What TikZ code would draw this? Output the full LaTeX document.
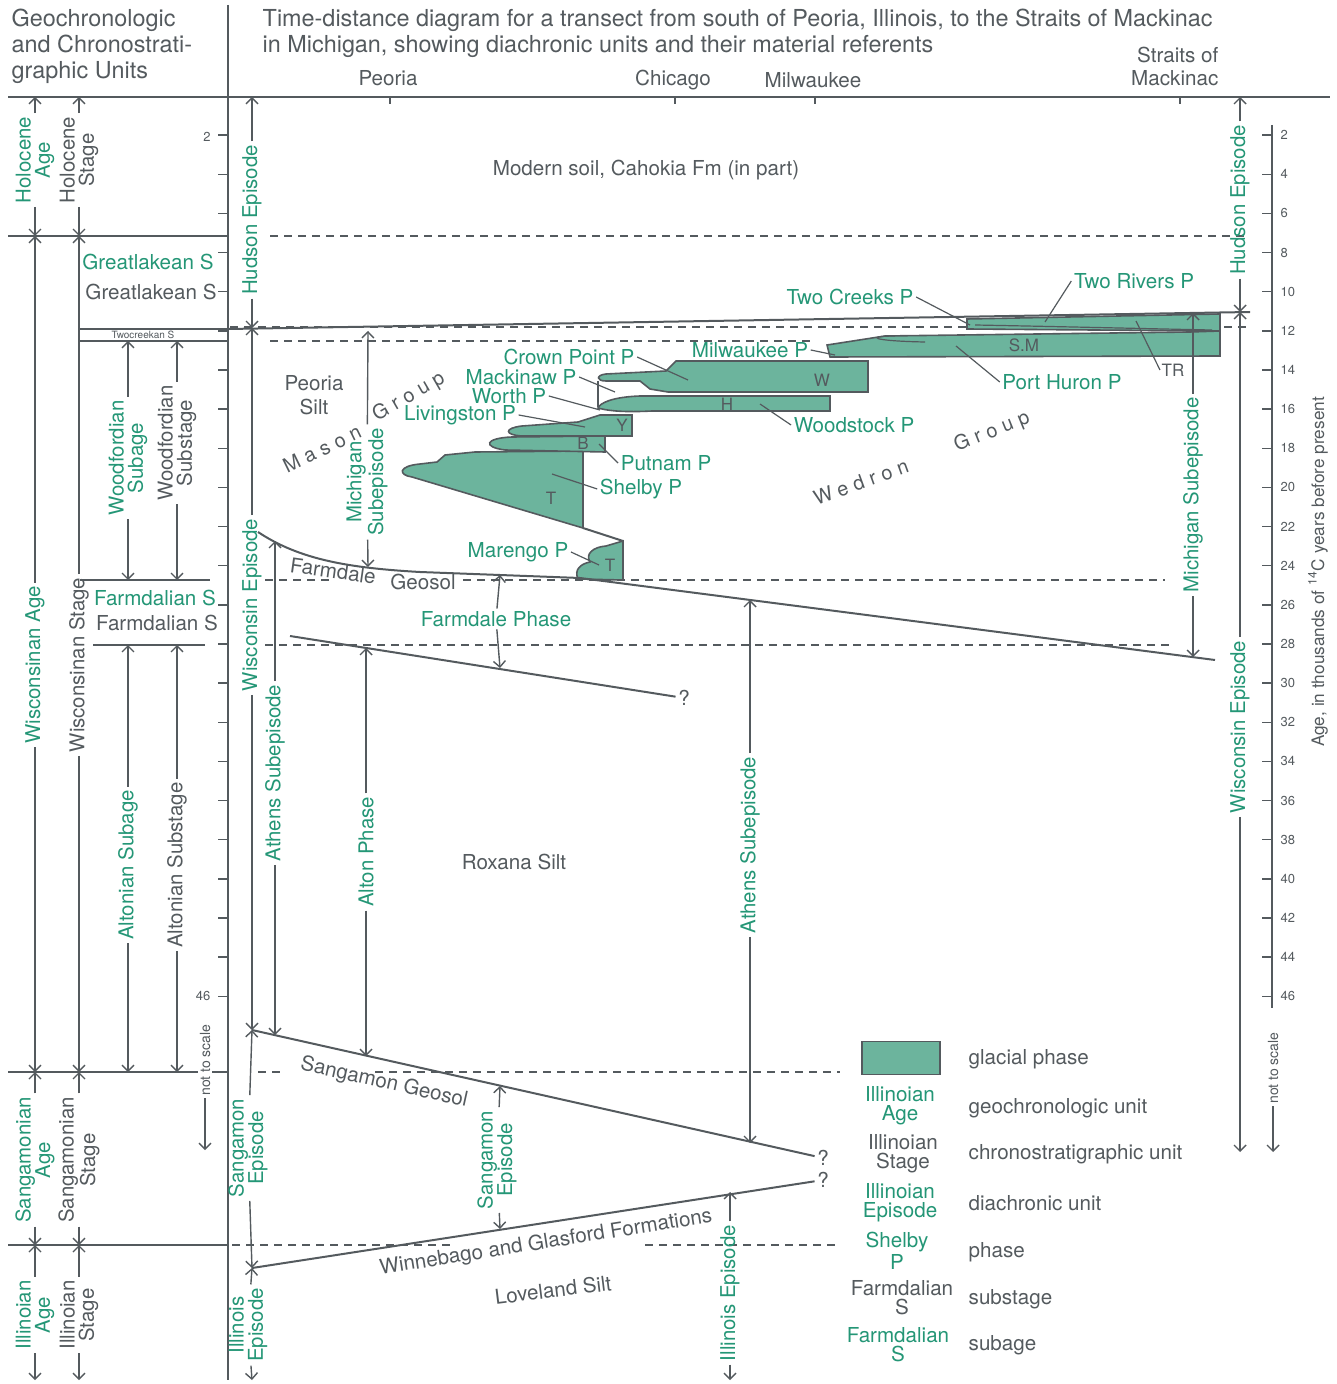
\documentclass[tikz,border=0pt]{standalone}
\usepackage{fontspec}
\setmainfont{TeX Gyre Heros}
\newfontfamily\grpfont[LetterSpace=30]{TeX Gyre Heros}
\usetikzlibrary{arrows.meta}
\definecolor{inkg}{RGB}{84,90,94}
\definecolor{epig}{RGB}{36,150,118}
\definecolor{glacier}{RGB}{108,180,157}
\begin{document}
\begin{tikzpicture}[%
    x=0.5pt, y=-0.5pt, color=inkg,
    >={Straight Barb[length=3pt,width=6pt]}, line width=0.7pt,
    txt/.style={font=\fontsize{10.3}{11}\selectfont, inner sep=1pt},
    grn/.style={txt, text=epig},
    vtxt/.style={rotate=90, align=center, inner sep=1.5pt, font=\fontsize{10.2}{9.7}\selectfont},
    vgrn/.style={vtxt, text=epig},
    inlbl/.style={font=\fontsize{8.5}{9}\selectfont, inner sep=0.5pt},
    small/.style={font=\fontsize{6.5}{7}\selectfont, inner sep=1pt},
    head/.style={font=\fontsize{11.7}{13}\selectfont, align=left, inner sep=0pt},
    grp/.style={font=\grpfont\fontsize{10}{11}\selectfont, inner sep=0pt},
    bound/.style={line width=1pt},
    frame/.style={line width=1.3pt},
    dashln/.style={dash pattern=on 4pt off 3pt, line width=0.6pt},
    lobe/.style={fill=glacier, draw=inkg, line width=0.8pt},
    ptr/.style={line width=0.6pt}
  ]
  \useasboundingbox (0,0) rectangle (1336,1384);

  % headings
  \node[head, anchor=north west] (hdl) at (11,8) {Geochronologic\\and Chronostrati-\\graphic Units};
  \node[head, anchor=north west] (hdr) at (262,8) {Time-distance diagram for a transect from south of Peoria, Illinois, to the Straits of Mackinac\\in Michigan, showing diachronic units and their material referents};
  \node[txt] (peo) at (388,78) {Peoria};
  \node[txt] (chi) at (673,80) {Chicago};
  \node[txt] (mil) at (813,80) {Milwaukee};
  \node[txt, align=right, anchor=north east, font=\fontsize{10.3}{11.5}\selectfont] (stm) at (1221,44) {Straits of\\Mackinac};

  % frame
  \draw[frame] (8,97) -- (1330,97);
  \draw[frame] (228,5) -- (228,1380);
  \foreach \x in {390,675,815,1180} \draw (\x,97) -- (\x,104);
  \draw[bound] (8,236) -- (228,236);
  \draw[bound] (80,329) -- (228,329);
  \draw[bound] (80,341) -- (228,341);
  \draw[bound] (80,580) -- (210,580);
  \draw[bound] (93,645) -- (205,645);
  \draw[bound] (8,1072) -- (228,1072);
  \draw[bound] (8,1245) -- (228,1245);

  % scales
  \foreach \a in {2,4,...,46} \draw (218,{96+19.57*\a}) -- (228,{96+19.57*\a});
  \node[small] (l2) at (207,137) {2};
  \node[small] (l46) at (203,996) {46};
  \draw (1272,125) -- (1272,1008);
  \foreach \a in {2,4,...,46}
    \draw (1262,{96+19.57*\a}) -- (1272,{96+19.57*\a}) node[small, right, xshift=3pt] (r\a) {\a};
  \node[txt, rotate=90, font=\fontsize{8.6}{9}\selectfont] (agel) at (1318,572) {Age, in thousands of \textsuperscript{14}C years before present};
  \node[small, rotate=90, fill=white, font=\fontsize{7}{8}\selectfont] (nts1) at (205,1060) {not to scale};
  \coordinate (nts1B) at (205,1150);
  \draw[->] (nts1) -- (nts1B);
  \node[small, rotate=90, font=\fontsize{7}{8}\selectfont] (nts2) at (1273,1068) {not to scale};
  \coordinate (nts2B) at (1273,1152);
  \draw[->] (nts2) -- (nts2B);

  % subage and substage names
  \node[grn] (gla) at (148,262) {Greatlakean S};
  \node[txt] (gls) at (151,292) {Greatlakean S};
  \node[txt, font=\fontsize{5}{6}\selectfont] (tcs) at (143,335) {Twocreekan S};
  \node[grn] (fda) at (155,598) {Farmdalian S};
  \node[txt] (fds) at (157,623) {Farmdalian S};

  % ages and stages
  \coordinate (hoaT) at (35,97);  \coordinate (hoaB) at (35,236);
  \node[vgrn] (hoa) at (35,160) {Holocene\\Age};
  \path[->] (hoa) edge (hoaT) edge (hoaB);
  \coordinate (hosT) at (79,97);  \coordinate (hosB) at (79,236);
  \node[vtxt] (hos) at (79,160) {Holocene\\Stage};
  \path[->] (hos) edge (hosT) edge (hosB);
  \coordinate (wiaT) at (35,236);  \coordinate (wiaB) at (35,1072);
  \node[vgrn] (wia) at (35,665) {Wisconsinan Age};
  \path[->] (wia) edge (wiaT) edge (wiaB);
  \coordinate (wisT) at (79,236);  \coordinate (wisB) at (79,1072);
  \node[vtxt] (wis) at (79,665) {Wisconsinan Stage};
  \path[->] (wis) edge (wisT) edge (wisB);
  \coordinate (sgaT) at (35,1072);  \coordinate (sgaB) at (35,1245);
  \node[vgrn] (sga) at (35,1160) {Sangamonian\\Age};
  \path[->] (sga) edge (sgaT) edge (sgaB);
  \coordinate (sgsT) at (79,1072);  \coordinate (sgsB) at (79,1245);
  \node[vtxt] (sgs) at (79,1160) {Sangamonian\\Stage};
  \path[->] (sgs) edge (sgsT) edge (sgsB);
  \coordinate (ilaT) at (35,1245);  \coordinate (ilaB) at (35,1380);
  \node[vgrn] (ila) at (35,1315) {Illinoian\\Age};
  \path[->] (ila) edge (ilaT) edge (ilaB);
  \coordinate (ilsT) at (79,1245);  \coordinate (ilsB) at (79,1380);
  \node[vtxt] (ils) at (79,1315) {Illinoian\\Stage};
  \path[->] (ils) edge (ilsT) edge (ilsB);
  \coordinate (wfaT) at (128,341);  \coordinate (wfaB) at (128,580);
  \node[vgrn] (wfa) at (128,458) {Woodfordian\\Subage};
  \path[->] (wfa) edge (wfaT) edge (wfaB);
  \coordinate (wfsT) at (177,341);  \coordinate (wfsB) at (177,580);
  \node[vtxt] (wfs) at (177,443) {Woodfordian\\Substage};
  \path[->] (wfs) edge (wfsT) edge (wfsB);
  \coordinate (alaT) at (128,645);  \coordinate (alaB) at (128,1072);
  \node[vgrn] (ala) at (128,865) {Altonian Subage};
  \path[->] (ala) edge (alaT) edge (alaB);
  \coordinate (alsT) at (177,645);  \coordinate (alsB) at (177,1072);
  \node[vtxt] (als) at (177,865) {Altonian Substage};
  \path[->] (als) edge (alsT) edge (alsB);

  % time lines
  \draw[dashln] (270,236) -- (1245,236);
  \draw[dashln] (230,327) -- (1250,327);
  \draw[dashln] (270,341) -- (815,341);
  \draw[dashln] (265,580) -- (330,580);
  \draw[dashln] (463,580) -- (1165,580);
  \draw[dashln] (265,645) -- (1170,645);
  \draw[dashln] (258,1072) -- (285,1072);
  \draw[dashln] (375,1072) -- (840,1072);
  \draw[dashln] (232,1245) -- (450,1245);
  \draw[dashln] (645,1245) -- (840,1245);

  % glacial phases
  \draw[lobe] (583,451) -- (475,452) -- (445,455) -- (437,462) -- (420,464) .. controls (398,466) and (398,475) .. (412,477) -- (583,528) -- cycle;
  \draw[lobe] (605,436) -- (512,437) .. controls (485,438) and (482,447) .. (505,450) -- (605,452) -- cycle;
  \draw[lobe] (632,415) -- (600,415) -- (578,422) -- (522,426) .. controls (504,428) and (504,435) .. (522,436) -- (632,436) -- cycle;
  \draw[lobe] (830,396) -- (640,396) .. controls (612,397) and (600,403) .. (598,408) .. controls (612,412) and (632,412) .. (652,411) -- (830,411) -- cycle;
  \draw[lobe] (868,361) -- (676,361) -- (666,371) -- (606,374) .. controls (596,375) and (596,381) .. (606,381) -- (640,381) -- (650,389) -- (668,392) -- (868,392) -- cycle;
  \draw (598,381) -- (598,407);
  \draw[lobe] (967,319) -- (1220,314) -- (1220,331) -- (967,329) -- cycle;
  \draw[lobe] (1220,331) -- (1220,356) -- (830,357) -- (827,345) -- (885,336) -- (1190,332) -- cycle;
  \draw[ptr] (975,325) .. controls (1080,327) and (1160,329) .. (1212,330);
  \draw[ptr] (925,342) .. controls (870,341) and (865,336) .. (895,336);
  \draw[lobe] (623,541) -- (623,580) -- (578,579) .. controls (574,570) and (580,564) .. (590,562) .. controls (585,554) and (593,547) .. (606,546) -- cycle;
  \draw[bound] (583,528) -- (623,541);
  \node[inlbl] (lw) at (822,380) {W};
  \node[inlbl] (lh) at (727,404) {H};
  \node[inlbl] (ly) at (622,425) {Y};
  \node[inlbl] (lb) at (583,443) {B};
  \node[inlbl] (lt1) at (551,498) {T};
  \node[inlbl] (lt2) at (610,565) {T};
  \node[inlbl] (lsm) at (1024,345) {S.M};

  % boundaries
  \coordinate (hwL) at (228,329); \coordinate (hwR) at (1250,312);
  \draw[bound] (hwL) -- (hwR);
  \coordinate (fgA) at (258,532); \coordinate (fgB) at (420,572);
  \coordinate (fgC) at (580,578); \coordinate (fgD) at (1215,660);
  \draw[bound] (fgA) .. controls (300,560) and (350,568) .. (fgB) -- (fgC) -- (fgD);
  \coordinate (fbA) at (290,636);
  \node[txt] (q1) at (684,698) {?};
  \draw[bound] (fbA) -- (q1);
  \coordinate (sgA) at (252,1030);
  \node[txt] (q2) at (823,1158) {?};
  \draw[bound] (sgA) -- (q2);
  \coordinate (wgA) at (252,1268);
  \node[txt] (q3) at (823,1180) {?};
  \draw[bound] (wgA) -- (q3);

  % material referents
  \node[txt] (mod) at (646,170) {Modern soil, Cahokia Fm (in part)};
  \node[txt, align=center, font=\fontsize{10.3}{12}\selectfont] (pes) at (314,395) {Peoria\\Silt};
  \node[grp, rotate=26] (mas) at (322,449) {Mason};
  \node[grp, rotate=30] (mgr) at (409,397) {Group};
  \node[grp, rotate=20] (wed) at (861,482) {Wedron};
  \node[grp, rotate=22] (wgr) at (992,432) {Group};
  \node[txt, rotate=-8] (fdl) at (333,571) {Farmdale};
  \node[txt] (geo) at (423,582) {Geosol};
  \node[txt] (rox) at (514,862) {Roxana Silt};
  \node[txt, rotate=-12.5] (sgg) at (384,1083) {Sangamon Geosol};
  \node[txt, rotate=9] (wgf) at (546,1243) {Winnebago and Glasford Formations};
  \node[txt, rotate=7] (lov) at (553,1290) {Loveland Silt};

  % phase labels
  \node[grn] (tcp) at (850,297) {Two Creeks P};
  \coordinate (tcpE) at (970,325);
  \draw[ptr] (tcp.east) -- (tcpE);
  \node[grn] (trp) at (1134,281) {Two Rivers P};
  \coordinate (trpE) at (1045,322);
  \draw[ptr] (trp.west) -- (trpE);
  \node[grn] (mwp) at (750,350) {Milwaukee P};
  \coordinate (mwpE) at (835,355);
  \draw[ptr] (mwp.east) -- (mwpE);
  \node[grn] (cpp) at (569,357) {Crown Point P};
  \coordinate (cppE) at (688,380);
  \draw[ptr] (cpp.east) -- (cppE);
  \node[grn] (mkp) at (521,377) {Mackinaw P};
  \coordinate (mkpE) at (615,392);
  \draw[ptr] (mkp.east) -- (mkpE);
  \node[grn] (wop) at (509,396) {Worth P};
  \coordinate (wopE) at (600,410);
  \draw[ptr] (wop.east) -- (wopE);
  \node[grn] (lvp) at (460,415) {Livingston P};
  \coordinate (lvpE) at (585,427);
  \draw[ptr] (lvp.east) -- (lvpE);
  \node[grn] (ptp) at (666,463) {Putnam P};
  \coordinate (ptpE) at (599,444);
  \draw[ptr] (ptp.west) -- (ptpE);
  \node[grn] (shp) at (641,489) {Shelby P};
  \coordinate (shpE) at (552,474);
  \draw[ptr] (shp.west) -- (shpE);
  \node[grn] (mrp) at (518,552) {Marengo P};
  \coordinate (mrpE) at (599,565);
  \draw[ptr] (mrp.east) -- (mrpE);
  \node[grn] (php) at (1062,382) {Port Huron P};
  \coordinate (phpE) at (956,346);
  \draw[ptr] (php.west) -- (phpE);
  \node[grn] (wsp) at (854,425) {Woodstock P};
  \coordinate (wspE) at (760,404);
  \draw[ptr] (wsp.west) -- (wspE);
  \node[inlbl] (trl) at (1173,370) {TR};
  \coordinate (trlE) at (1136,321);
  \draw[ptr] (trl.west) -- (trlE);

  % diachronic units
  \coordinate (hueT) at (252,97);  \coordinate (hueB) at (252,328);
  \node[vgrn] (hue) at (252,220) {Hudson Episode};
  \path[->] (hue) edge (hueT) edge (hueB);
  \coordinate (wieT) at (252,328);  \coordinate (wieB) at (252,1030);
  \node[vgrn] (wie) at (252,605) {Wisconsin Episode};
  \path[->] (wie) edge (wieT) edge (wieB);
  \coordinate (saeT) at (252,1030);  \coordinate (saeB) at (252,1268);
  \node[vgrn] (sae) at (248,1148) {Sangamon\\Episode};
  \path[->] (sae) edge (saeT) edge (saeB);
  \coordinate (iieT) at (252,1268);  \coordinate (iieB) at (252,1380);
  \node[vgrn] (iie) at (248,1325) {Illinois\\Episode};
  \path[->] (iie) edge (iieT) edge (iieB);
  \coordinate (athT) at (275,541);  \coordinate (athB) at (275,1035);
  \node[vgrn] (ath) at (275,773) {Athens Subepisode};
  \path[->] (ath) edge (athT) edge (athB);
  \coordinate (misT) at (368,331);  \coordinate (misB) at (368,567);
  \node[vgrn] (mis) at (367,482) {Michigan\\Subepisode};
  \path[->] (mis) edge (misT) edge (misB);
  \coordinate (alpT) at (366,648);  \coordinate (alpB) at (366,1056);
  \node[vgrn] (alp) at (366,852) {Alton Phase};
  \path[->] (alp) edge (alpT) edge (alpB);
  \coordinate (fdpT) at (500,575);  \coordinate (fdpB) at (500,668);
  \node[grn] (fdp) at (496,619) {Farmdale Phase};
  \path[->] (fdp) edge (fdpT) edge (fdpB);
  \coordinate (at2T) at (750,600);  \coordinate (at2B) at (750,1143);
  \node[vgrn] (at2) at (750,845) {Athens Subepisode};
  \path[->] (at2) edge (at2T) edge (at2B);
  \coordinate (sgmT) at (500,1086);  \coordinate (sgmB) at (500,1229);
  \node[vgrn] (sgm) at (497,1160) {Sangamon\\Episode};
  \path[->] (sgm) edge (sgmT) edge (sgmB);
  \coordinate (ileT) at (730,1192);  \coordinate (ileB) at (730,1380);
  \node[vgrn] (ile) at (730,1293) {Illinois Episode};
  \path[->] (ile) edge (ileT) edge (ileB);
  \coordinate (mirT) at (1193,313);  \coordinate (mirB) at (1193,657);
  \node[vgrn] (mir) at (1193,495) {Michigan Subepisode};
  \path[->] (mir) edge (mirT) edge (mirB);
  \coordinate (hurT) at (1240,97);  \coordinate (hurB) at (1240,312);
  \node[vgrn] (hur) at (1240,200) {Hudson Episode};
  \path[->] (hur) edge (hurT) edge (hurB);
  \coordinate (wirT) at (1240,312);  \coordinate (wirB) at (1240,1152);
  \node[vgrn] (wir) at (1240,727) {Wisconsin Episode};
  \path[->] (wir) edge (wirT) edge (wirB);

  % legend
  \node[lobe, minimum width=39pt, minimum height=16.5pt, inner sep=0pt] (lgbox) at (901,1058) {};
  \node[txt, anchor=west] (lg1) at (966,1059) {glacial phase};
  \node[grn, align=center, font=\fontsize{10.3}{9.5}\selectfont] (lgk2) at (900,1106) {Illinoian\\Age};
  \node[txt, anchor=west] (lg2) at (966,1108) {geochronologic unit};
  \node[txt, align=center, font=\fontsize{10.3}{9.5}\selectfont] (lgk3) at (903,1154) {Illinoian\\Stage};
  \node[txt, anchor=west] (lg3) at (966,1154) {chronostratigraphic unit};
  \node[grn, align=center, font=\fontsize{10.3}{9.5}\selectfont] (lgk4) at (900,1203) {Illinoian\\Episode};
  \node[txt, anchor=west] (lg4) at (966,1203) {diachronic unit};
  \node[grn, align=center, font=\fontsize{10.3}{9.5}\selectfont] (lgk5) at (897,1251) {Shelby\\P};
  \node[txt, anchor=west] (lg5) at (966,1252) {phase};
  \node[txt, align=center, font=\fontsize{10.3}{9.5}\selectfont] (lgk6) at (902,1298) {Farmdalian\\S};
  \node[txt, anchor=west] (lg6) at (966,1299) {substage};
  \node[grn, align=center, font=\fontsize{10.3}{9.5}\selectfont] (lgk7) at (898,1345) {Farmdalian\\S};
  \node[txt, anchor=west] (lg7) at (966,1345) {subage};
\end{tikzpicture}
\end{document}
